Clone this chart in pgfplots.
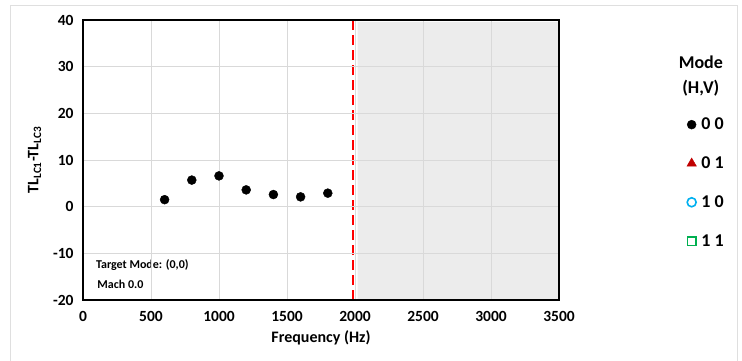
\documentclass[border=0pt]{standalone}
\usepackage{fontspec}
\setmainfont{Carlito}
\usepackage{pgfplots}
\pgfplotsset{compat=1.18}
\begin{document}
\begin{tikzpicture}
\path[use as bounding box] (0pt,0pt) rectangle (742pt,-360pt);
\draw[gray!25, line width=0.8pt] (10pt,-365pt) -- (10pt,-5pt) -- (737pt,-5pt) -- (737pt,-365pt);
\begin{axis}[
  at={(83pt,-300pt)}, anchor=south west,
  scale only axis, width=476pt, height=280pt,
  xmin=0, xmax=3500, ymin=-20, ymax=40,
  xtick={0,500,...,3500}, ytick={-20,-10,...,40},
  grid=major, major grid style={gray!30, line width=0.6pt},
  major tick length=0pt,
  axis line style={black, line width=1.3pt},
  axis on top,
  /pgf/number format/assume math mode=true,
  /pgf/number format/1000 sep={},
  ticklabel style={font=\fontsize{15.5}{18}\selectfont\bfseries},
  yticklabel style={xshift=-6pt},
  xticklabel style={yshift=-8pt},
  xlabel={\fontsize{16}{18}\selectfont\bfseries Frequency (Hz)},
  ylabel={\fontsize{16}{18}\selectfont\bfseries TL\textsubscript{LC1}-TL\textsubscript{LC3}},
  xlabel style={yshift=-2pt},
  ylabel style={yshift=5pt},
  legend style={draw=none, fill=none, at={(1.262,0.665)}, anchor=north west,
    font=\fontsize{18}{20}\selectfont\bfseries, row sep=21.5pt,
    /tikz/every even column/.append style={column sep=2pt}},
  legend cell align=left,
  clip=false,
]
\addplot[fill=gray!15, draw=none, forget plot] coordinates {(2020,-20) (2020,39.6) (3500,39.6) (3500,-20) (2020,-20)};
\addplot[red, line width=2.4pt, dash pattern=on 10pt off 5pt, forget plot] coordinates {(1985,-20) (1985,40)};
\addplot[only marks, mark=*, mark size=4.5pt, black] coordinates {
(600,1.5) (800,5.7) (1000,6.6) (1200,3.6) (1400,2.6) (1600,2.1) (1800,2.9)};
\addlegendentry{\hspace{3pt}0 0}
\addlegendimage{only marks, mark=triangle*, mark size=5.5pt, color={rgb,255:red,192;green,0;blue,0}}
\addlegendentry{\hspace{3pt}0 1}
\addlegendimage{only marks, mark=o, mark size=4.5pt, mark options={line width=1.6pt}, color={rgb,255:red,0;green,176;blue,240}}
\addlegendentry{\hspace{3pt}1 0}
\addlegendimage{only marks, mark=square, mark size=4.3pt, mark options={line width=1.6pt}, color={rgb,255:red,0;green,176;blue,80}}
\addlegendentry{\hspace{3pt}1 1}
\node[anchor=west, font=\fontsize{12}{14}\selectfont\bfseries] at (axis cs:70,-12.5) {Target Mode: (0,0)};
\node[anchor=west, font=\fontsize{12}{14}\selectfont\bfseries] at (axis cs:80,-16.6) {Mach 0.0};
\node[align=center, font=\fontsize{18}{25}\selectfont\bfseries] at (rel axis cs:1.298,0.80) {Mode\\(H,V)};
\end{axis}
\end{tikzpicture}
\end{document}
